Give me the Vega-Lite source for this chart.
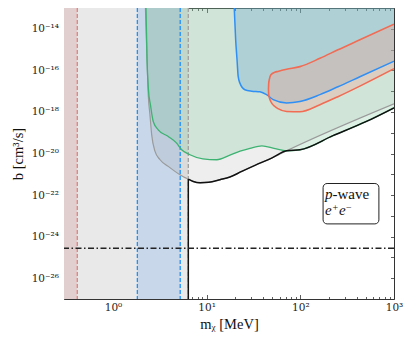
{
  "$schema": "https://vega.github.io/schema/vega-lite/v6.json",
  "width": 330,
  "height": 291,
  "autosize": {"type": "none"},
  "padding": {"left": 64, "top": 8, "right": 17, "bottom": 45},
  "config": {
    "view": {"stroke": null},
    "font": "Liberation Serif",
    "axis": {
      "grid": false, "domainColor": "#333", "tickColor": "#333", "domainWidth": 1, "tickWidth": 0.8,
      "labelFont": "DejaVu Serif", "titleFont": "Liberation Serif", "labelColor": "#222", "titleColor": "#111",
      "titleFontWeight": "normal", "zindex": 1, "labelFontSize": 10.5, "titleFontSize": 14.5,
      "labelFlush": false, "labelOverlap": false
    }
  },
  "datasets": {
    "light": [{"lo": 0.3, "hi": 6.37}],
    "redband": [{"lo": 0.3, "hi": 0.416}],
    "blueband": [{"lo": 1.82, "hi": 5.22}],
    "grey": [{"x":2.22,"y":1e-13},{"x":2.31,"y":3.2e-16},{"x":2.38,"y":6.8e-18},{"x":2.48,"y":7.4e-19},{"x":2.59,"y":7.9e-20},{"x":2.81,"y":1.26e-20},{"x":3.18,"y":5.0e-21},{"x":3.89,"y":2.4e-21},{"x":4.59,"y":1.38e-21},{"x":5.19,"y":9.5e-22},{"x":5.87,"y":6.9e-22},{"x":6.37,"y":5.9e-22},{"x":7.2,"y":4.5e-22},{"x":8.5,"y":3.9e-22},{"x":10.5,"y":4.1e-22},{"x":13.9,"y":5.5e-22},{"x":17.7,"y":7.4e-22},{"x":23.7,"y":1.38e-21},{"x":32.8,"y":2.7e-21},{"x":49.4,"y":6.0e-21},{"x":71.4,"y":1.35e-20},{"x":1000,"y":2.45e-18}],
    "green": [{"x":2.25,"y":1e-13},{"x":2.31,"y":3.2e-16},{"x":2.39,"y":1.17e-17},{"x":2.51,"y":2.24e-18},{"x":2.69,"y":3.47e-19},{"x":3.04,"y":1.38e-19},{"x":3.89,"y":6.6e-20},{"x":4.78,"y":3.16e-20},{"x":5.41,"y":1.51e-20},{"x":6.63,"y":8.7e-21},{"x":9.1,"y":5.5e-21},{"x":12.8,"y":5.0e-21},{"x":17.7,"y":8.3e-21},{"x":22.7,"y":1.29e-20},{"x":29,"y":1.78e-20},{"x":38.9,"y":2.34e-20},{"x":53.6,"y":1.7e-20},{"x":71.4,"y":1.35e-20},{"x":99,"y":1.51e-20},{"x":223,"y":7.2e-20},{"x":501,"y":3.4e-19},{"x":1000,"y":1.58e-18}],
    "blue": [{"x":19.7,"y":1e-13},{"x":20.4,"y":2.95e-15},{"x":21.1,"y":3.24e-16},{"x":21.7,"y":5.1e-17},{"x":22.6,"y":2.5e-17},{"x":25.6,"y":1.17e-17},{"x":30.4,"y":1.0e-17},{"x":37,"y":9.3e-18},{"x":43.6,"y":6.8e-18},{"x":51.4,"y":3.9e-18},{"x":71.4,"y":2.7e-18},{"x":99,"y":3.16e-18},{"x":162,"y":6.8e-18},{"x":252,"y":1.62e-17},{"x":432,"y":4.9e-17},{"x":1000,"y":2.75e-16}],
    "red": [{"x":45.7,"lo":1.26e-17,"hi":1.26e-17},{"x":46.0,"lo":6.5e-18,"hi":2.4e-17},{"x":46.6,"lo":5.0e-18,"hi":3.55e-17},{"x":48.5,"lo":3.09e-18,"hi":6.17e-17},{"x":53.5,"lo":1.82e-18,"hi":8.13e-17},{"x":57.7,"lo":1.45e-18,"hi":8.9e-17},{"x":71.4,"lo":1.05e-18,"hi":1.12e-16},{"x":99,"lo":1.02e-18,"hi":1.51e-16},{"x":162,"lo":2.24e-18,"hi":3.8e-16},{"x":252,"lo":5.4e-18,"hi":9.8e-16},{"x":432,"lo":1.74e-17,"hi":2.95e-15},{"x":1000,"lo":1.2e-16,"hi":1.66e-14}],
    "black": [{"x":6.37,"y":5.9e-22},{"x":7.2,"y":4.5e-22},{"x":8.5,"y":3.9e-22},{"x":10.5,"y":4.1e-22},{"x":13.9,"y":5.5e-22},{"x":17.7,"y":7.4e-22},{"x":23.7,"y":1.38e-21},{"x":32.8,"y":2.7e-21},{"x":49.4,"y":6.0e-21},{"x":71.4,"y":1.35e-20},{"x":99,"y":1.51e-20},{"x":223,"y":7.2e-20},{"x":501,"y":3.4e-19},{"x":1000,"y":1.58e-18}],
    "blackv": [{"x": 6.37, "lo": 1e-27, "hi": 5.9e-22}],
    "redv": [{"x": 0.416}],
    "bluev": [{"x": 1.82}, {"x": 5.22}],
    "greyv": [{"x": 6.37}],
    "hline": [{"y": 2.75e-25}],
    "box": [{"x1": 175, "x2": 690, "y1": 4.1e-24, "y2": 3.6e-22}],
    "t1": [{"x": 183, "y": 6.8e-23, "t": "p"}],
    "t2": [{"x": 220, "y": 6.8e-23, "t": "-wave"}],
    "t3": [{"x": 183, "y": 1.08e-23, "t": "e"}, {"x": 258, "y": 1.08e-23, "t": "e"}],
    "t4": [{"x": 220, "y": 1.78e-23, "t": "+"}],
    "t5": [{"x": 307, "y": 1.78e-23, "t": "−"}]
  },
  "resolve": {"axis": {"x": "independent", "y": "independent"}},
  "layer": [
    {"data": {"name": "light"}, "mark": {"type": "rect", "fill": "#e9e9e9"},
     "encoding": {"x": {"field": "lo", "type": "quantitative", "scale": {"type": "log", "domain": [0.3, 1000], "nice": false}, "axis": null}, "x2": {"field": "hi"},
       "y": {"datum": 1e-27, "type": "quantitative", "scale": {"type": "log", "domain": [1e-27, 1e-13], "nice": false}, "axis": null}, "y2": {"datum": 1e-13}}},
    {"data": {"name": "redband"}, "mark": {"type": "rect", "fill": "#b03030", "opacity": 0.14},
     "encoding": {"x": {"field": "lo", "type": "quantitative", "scale": {"type": "log", "domain": [0.3, 1000], "nice": false}, "axis": null}, "x2": {"field": "hi"},
       "y": {"datum": 1e-27, "type": "quantitative", "scale": {"type": "log", "domain": [1e-27, 1e-13], "nice": false}, "axis": null}, "y2": {"datum": 1e-13}}},
    {"data": {"name": "blueband"}, "mark": {"type": "rect", "fill": "#5096eb", "opacity": 0.22},
     "encoding": {"x": {"field": "lo", "type": "quantitative", "scale": {"type": "log", "domain": [0.3, 1000], "nice": false}, "axis": null}, "x2": {"field": "hi"},
       "y": {"datum": 1e-27, "type": "quantitative", "scale": {"type": "log", "domain": [1e-27, 1e-13], "nice": false}, "axis": null}, "y2": {"datum": 1e-13}}},
    {"data": {"name": "grey"}, "mark": {"type": "area", "fill": "#8c8c8c", "opacity": 0.15, "interpolate": "monotone", "clip": true},
     "encoding": {
       "x": {"field": "x", "type": "quantitative", "scale": {"type": "log", "domain": [0.3, 1000], "nice": false},
         "axis": {"orient": "bottom", "values": [1, 10, 100, 1000], "tickSize": -4.5, "labelPadding": 8,
           "labelExpr": "datum.value == 1 ? '10⁰' : datum.value == 10 ? '10¹' : datum.value == 100 ? '10²' : '10³'",
           "title": "mᵪ  [MeV]", "titlePadding": 4}},
       "y": {"field": "y", "type": "quantitative", "scale": {"type": "log", "domain": [1e-27, 1e-13], "nice": false},
         "axis": {"orient": "left", "values": [1e-26, 1e-24, 1e-22, 1e-20, 1e-18, 1e-16, 1e-14], "tickSize": -3.5, "labelPadding": 9,
           "labelExpr": "round(log(datum.value)/LN10) == -14 ? '10⁻¹⁴' : round(log(datum.value)/LN10) == -16 ? '10⁻¹⁶' : round(log(datum.value)/LN10) == -18 ? '10⁻¹⁸' : round(log(datum.value)/LN10) == -20 ? '10⁻²⁰' : round(log(datum.value)/LN10) == -22 ? '10⁻²²' : round(log(datum.value)/LN10) == -24 ? '10⁻²⁴' : '10⁻²⁶'",
           "title": "b  [cm³/s]", "titlePadding": 6}},
       "y2": {"datum": 1e-13}}},
    {"data": {"name": "green"}, "mark": {"type": "area", "fill": "#78c896", "opacity": 0.25, "interpolate": "monotone", "clip": true},
     "encoding": {
       "x": {"field": "x", "type": "quantitative", "scale": {"type": "log", "domain": [0.3, 1000], "nice": false},
         "axis": {"orient": "bottom", "values": [0.3,0.4,0.5,0.6,0.7,0.8,0.9,2,3,4,5,6,7,8,9,20,30,40,50,60,70,80,90,200,300,400,500,600,700,800,900], "tickSize": -2.5, "labels": false, "domain": false, "title": null}},
       "y": {"field": "y", "type": "quantitative", "scale": {"type": "log", "domain": [1e-27, 1e-13], "nice": false},
         "axis": {"orient": "left", "values": [1e-25, 1e-23, 1e-21, 1e-19, 1e-17, 1e-15], "tickSize": -3.5, "labels": false, "domain": false, "title": null}},
       "y2": {"datum": 1e-13}}},
    {"data": {"name": "blue"}, "mark": {"type": "area", "fill": "#65a1cb", "opacity": 0.3, "interpolate": "monotone", "clip": true},
     "encoding": {
       "x": {"field": "x", "type": "quantitative", "scale": {"type": "log", "domain": [0.3, 1000], "nice": false},
         "axis": {"orient": "top", "values": [1, 10, 100, 1000], "tickSize": -4.5, "labels": false, "title": null}},
       "y": {"field": "y", "type": "quantitative", "scale": {"type": "log", "domain": [1e-27, 1e-13], "nice": false},
         "axis": {"orient": "right", "values": [1e-26,1e-25,1e-24,1e-23,1e-22,1e-21,1e-20,1e-19,1e-18,1e-17,1e-16,1e-15,1e-14], "tickSize": -3.5, "labels": false, "title": null}},
       "y2": {"datum": 1e-13}}},
    {"data": {"name": "red"}, "mark": {"type": "area", "fill": "#fa9f90", "opacity": 0.3, "interpolate": "monotone", "clip": true},
     "encoding": {
       "x": {"field": "x", "type": "quantitative", "scale": {"type": "log", "domain": [0.3, 1000], "nice": false},
         "axis": {"orient": "top", "values": [0.3,0.4,0.5,0.6,0.7,0.8,0.9,2,3,4,5,6,7,8,9,20,30,40,50,60,70,80,90,200,300,400,500,600,700,800,900], "tickSize": -2.5, "labels": false, "domain": false, "title": null}},
       "y": {"field": "lo", "type": "quantitative", "scale": {"type": "log", "domain": [1e-27, 1e-13], "nice": false}, "axis": null},
       "y2": {"field": "hi"}}},
    {"data": {"name": "redv"}, "mark": {"type": "rule", "color": "#ee7c7c", "strokeWidth": 1.3, "strokeDash": [4, 2]},
     "encoding": {"x": {"field": "x", "type": "quantitative", "scale": {"type": "log", "domain": [0.3, 1000], "nice": false}, "axis": null}}},
    {"data": {"name": "bluev"}, "mark": {"type": "rule", "color": "#1e90ff", "strokeWidth": 1.3, "strokeDash": [4, 2]},
     "encoding": {"x": {"field": "x", "type": "quantitative", "scale": {"type": "log", "domain": [0.3, 1000], "nice": false}, "axis": null}}},
    {"data": {"name": "greyv"}, "mark": {"type": "rule", "color": "#a0a0a0", "strokeWidth": 1.3, "strokeDash": [4, 2]},
     "encoding": {"x": {"field": "x", "type": "quantitative", "scale": {"type": "log", "domain": [0.3, 1000], "nice": false}, "axis": null}}},
    {"data": {"name": "grey"}, "mark": {"type": "line", "color": "#9a9a9a", "strokeWidth": 1.2, "interpolate": "monotone", "clip": true},
     "encoding": {"x": {"field": "x", "type": "quantitative", "scale": {"type": "log", "domain": [0.3, 1000], "nice": false}, "axis": null},
       "y": {"field": "y", "type": "quantitative", "scale": {"type": "log", "domain": [1e-27, 1e-13], "nice": false}, "axis": null}}},
    {"data": {"name": "green"}, "mark": {"type": "line", "color": "#3cb371", "strokeWidth": 1.3, "interpolate": "monotone", "clip": true},
     "encoding": {"x": {"field": "x", "type": "quantitative", "scale": {"type": "log", "domain": [0.3, 1000], "nice": false}, "axis": null},
       "y": {"field": "y", "type": "quantitative", "scale": {"type": "log", "domain": [1e-27, 1e-13], "nice": false}, "axis": null}}},
    {"data": {"name": "blackv"}, "mark": {"type": "rule", "color": "#111", "strokeWidth": 1.5, "clip": true},
     "encoding": {"x": {"field": "x", "type": "quantitative", "scale": {"type": "log", "domain": [0.3, 1000], "nice": false}, "axis": null},
       "y": {"field": "lo", "type": "quantitative", "scale": {"type": "log", "domain": [1e-27, 1e-13], "nice": false}, "axis": null}, "y2": {"field": "hi"}}},
    {"data": {"name": "black"}, "mark": {"type": "line", "color": "#111", "strokeWidth": 1.5, "interpolate": "monotone", "clip": true},
     "encoding": {"x": {"field": "x", "type": "quantitative", "scale": {"type": "log", "domain": [0.3, 1000], "nice": false}, "axis": null},
       "y": {"field": "y", "type": "quantitative", "scale": {"type": "log", "domain": [1e-27, 1e-13], "nice": false}, "axis": null}}},
    {"data": {"name": "blue"}, "mark": {"type": "line", "color": "#2f8ff5", "strokeWidth": 1.5, "interpolate": "monotone", "clip": true},
     "encoding": {"x": {"field": "x", "type": "quantitative", "scale": {"type": "log", "domain": [0.3, 1000], "nice": false}, "axis": null},
       "y": {"field": "y", "type": "quantitative", "scale": {"type": "log", "domain": [1e-27, 1e-13], "nice": false}, "axis": null}}},
    {"data": {"name": "red"}, "mark": {"type": "line", "color": "#f26b53", "strokeWidth": 1.6, "interpolate": "monotone", "clip": true},
     "encoding": {"x": {"field": "x", "type": "quantitative", "scale": {"type": "log", "domain": [0.3, 1000], "nice": false}, "axis": null},
       "y": {"field": "hi", "type": "quantitative", "scale": {"type": "log", "domain": [1e-27, 1e-13], "nice": false}, "axis": null}}},
    {"data": {"name": "red"}, "mark": {"type": "line", "color": "#f26b53", "strokeWidth": 1.6, "interpolate": "monotone", "clip": true},
     "encoding": {"x": {"field": "x", "type": "quantitative", "scale": {"type": "log", "domain": [0.3, 1000], "nice": false}, "axis": null},
       "y": {"field": "lo", "type": "quantitative", "scale": {"type": "log", "domain": [1e-27, 1e-13], "nice": false}, "axis": null}}},
    {"data": {"name": "hline"}, "mark": {"type": "rule", "color": "#222", "strokeWidth": 1.4, "strokeDash": [6, 2.5, 1.5, 2.5]},
     "encoding": {"y": {"field": "y", "type": "quantitative", "scale": {"type": "log", "domain": [1e-27, 1e-13], "nice": false}, "axis": null}}},
    {"data": {"name": "box"}, "mark": {"type": "rect", "fill": "white", "stroke": "#222", "strokeWidth": 1, "cornerRadius": 4},
     "encoding": {"x": {"field": "x1", "type": "quantitative", "scale": {"type": "log", "domain": [0.3, 1000], "nice": false}, "axis": null}, "x2": {"field": "x2"},
       "y": {"field": "y1", "type": "quantitative", "scale": {"type": "log", "domain": [1e-27, 1e-13], "nice": false}, "axis": null}, "y2": {"field": "y2"}}},
    {"data": {"name": "t1"}, "mark": {"type": "text", "align": "left", "baseline": "alphabetic", "fontSize": 15, "fontStyle": "italic", "font": "Liberation Serif", "color": "#111"},
     "encoding": {"x": {"field": "x", "type": "quantitative", "scale": {"type": "log", "domain": [0.3, 1000], "nice": false}, "axis": null},
       "y": {"field": "y", "type": "quantitative", "scale": {"type": "log", "domain": [1e-27, 1e-13], "nice": false}, "axis": null}, "text": {"field": "t"}}},
    {"data": {"name": "t2"}, "mark": {"type": "text", "align": "left", "baseline": "alphabetic", "fontSize": 15, "font": "Liberation Serif", "color": "#111"},
     "encoding": {"x": {"field": "x", "type": "quantitative", "scale": {"type": "log", "domain": [0.3, 1000], "nice": false}, "axis": null},
       "y": {"field": "y", "type": "quantitative", "scale": {"type": "log", "domain": [1e-27, 1e-13], "nice": false}, "axis": null}, "text": {"field": "t"}}},
    {"data": {"name": "t3"}, "mark": {"type": "text", "align": "left", "baseline": "alphabetic", "fontSize": 15, "fontStyle": "italic", "font": "Liberation Serif", "color": "#111"},
     "encoding": {"x": {"field": "x", "type": "quantitative", "scale": {"type": "log", "domain": [0.3, 1000], "nice": false}, "axis": null},
       "y": {"field": "y", "type": "quantitative", "scale": {"type": "log", "domain": [1e-27, 1e-13], "nice": false}, "axis": null}, "text": {"field": "t"}}},
    {"data": {"name": "t4"}, "mark": {"type": "text", "align": "left", "baseline": "alphabetic", "fontSize": 10, "font": "Liberation Serif", "color": "#111"},
     "encoding": {"x": {"field": "x", "type": "quantitative", "scale": {"type": "log", "domain": [0.3, 1000], "nice": false}, "axis": null},
       "y": {"field": "y", "type": "quantitative", "scale": {"type": "log", "domain": [1e-27, 1e-13], "nice": false}, "axis": null}, "text": {"field": "t"}}},
    {"data": {"name": "t5"}, "mark": {"type": "text", "align": "left", "baseline": "alphabetic", "fontSize": 10, "font": "Liberation Serif", "color": "#111"},
     "encoding": {"x": {"field": "x", "type": "quantitative", "scale": {"type": "log", "domain": [0.3, 1000], "nice": false}, "axis": null},
       "y": {"field": "y", "type": "quantitative", "scale": {"type": "log", "domain": [1e-27, 1e-13], "nice": false}, "axis": null}, "text": {"field": "t"}}}
  ]
}
